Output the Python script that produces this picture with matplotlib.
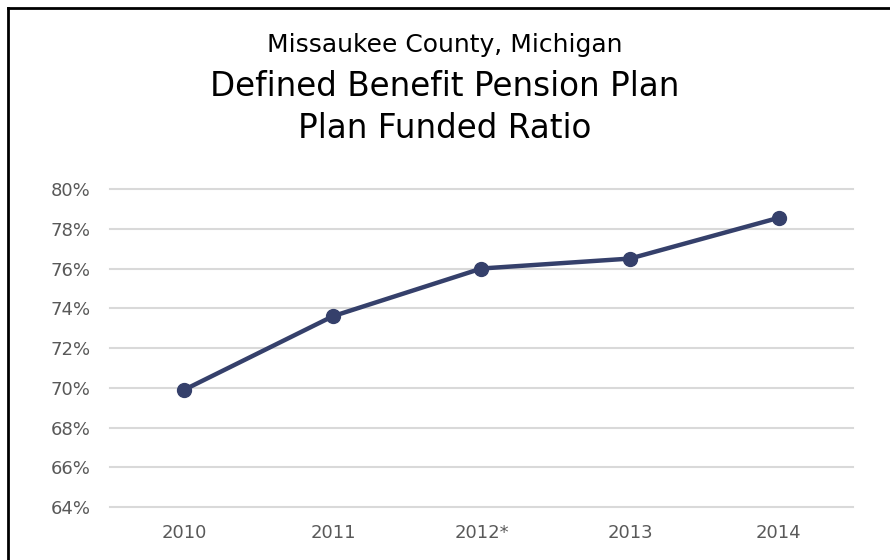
import matplotlib
matplotlib.use("Agg")
import matplotlib.pyplot as plt
from matplotlib.lines import Line2D
from matplotlib.ticker import FuncFormatter

# data
years = ["2010", "2011", "2012*", "2013", "2014"]
funded_ratio = [69.9, 73.6, 76.0, 76.5, 78.55]
yticks = [64, 66, 68, 70, 72, 74, 76, 78, 80]

fig = plt.figure(figsize=(8.9, 5.6), dpi=100)
ax = fig.add_axes([0.1236, 0.0946, 0.8348, 0.5679])

x = list(range(len(years)))
ax.plot(x, funded_ratio, color="#35406b", lw=3.2, marker="o", ms=10,
        solid_capstyle="round", zorder=3)

ax.set_xlim(-0.5, len(years) - 0.5)
ax.set_ylim(64, 80)
ax.set_yticks(yticks)
ax.yaxis.set_major_formatter(FuncFormatter(lambda v, p: f"{v:.0f}%"))
ax.set_xticks(x)
ax.set_xticklabels(years)
ax.grid(axis="y", color="#d9d9d9", lw=1.5)
for gl in ax.get_ygridlines():
    gl.set_clip_on(False)
ax.set_axisbelow(True)
for s in ax.spines.values():
    s.set_visible(False)
ax.tick_params(length=0, labelsize=13, labelcolor="#595959")
ax.tick_params(axis="x", pad=12)
ax.tick_params(axis="y", pad=14)

fig.text(0.5, 1 - 45 / 560, "Missaukee County, Michigan", ha="center", va="center",
         fontsize=18, color="#000000")
fig.text(0.5, 1 - 87 / 560, "Defined Benefit Pension Plan", ha="center", va="center",
         fontsize=23.5, color="#000000")
fig.text(0.5, 1 - 128 / 560, "Plan Funded Ratio", ha="center", va="center",
         fontsize=23.5, color="#000000")

# frame around the chart (left and top edges visible)
fig.add_artist(Line2D([8 / 890, 8 / 890], [0, 1 - 8 / 560], color="black", lw=2,
                      transform=fig.transFigure))
fig.add_artist(Line2D([8 / 890, 1], [1 - 8 / 560, 1 - 8 / 560], color="black", lw=2,
                      transform=fig.transFigure))

fig.savefig("out.png", dpi=100)
